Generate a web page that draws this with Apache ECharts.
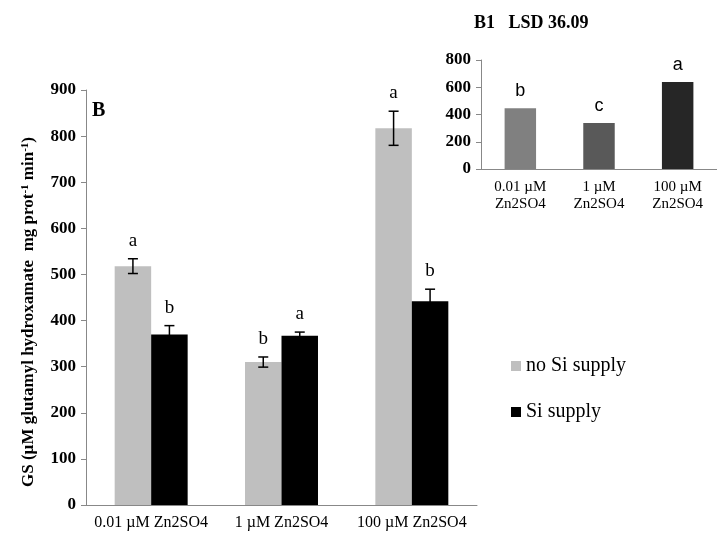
<!DOCTYPE html>
<html><head><meta charset="utf-8">
<script src="https://cdn.jsdelivr.net/npm/echarts@6/dist/echarts.min.js"></script>
<style>html,body{margin:0;padding:0;background:#fff}#c{width:717px;height:539px}</style>
</head><body><div id="c"></div>
<script>
var categories = ['0.01 µM Zn2SO4', '1 µM Zn2SO4', '100 µM Zn2SO4'];
var noSi = [518, 310, 817];
var noSiErr = [16, 11, 37];
var noSiLetters = ['a', 'b', 'a'];
var si = [370, 367, 442];
var siErr = [19, 8, 26];
var siLetters = ['b', 'a', 'b'];
var yTicks = [0, 900, 100];
var insetCategories = ['0.01 µM\nZn2SO4', '1 µM\nZn2SO4', '100 µM\nZn2SO4'];
var insetValues = [446, 337, 639];
var insetLetters = ['b', 'c', 'a'];
var insetColors = ['#808080', '#595959', '#262626'];
var insetTicks = [0, 800, 200];

var serif = '"Liberation Serif","Times New Roman",serif';
var chart = echarts.init(document.getElementById('c'));

function errSeries(vals, errs, letters, side) {
  return {
    type: 'custom', xAxisIndex: 0, yAxisIndex: 0, z: 10,
    data: vals.map(function (v, i) { return [i, v, errs[i], letters[i]]; }),
    renderItem: function (params, api) {
      var band = api.size([1, 0])[0];
      var bw = band * 0.28;
      var c = api.coord([api.value(0), api.value(1)]);
      var x = c[0] + side * bw / 2;
      var top = api.coord([api.value(0), api.value(1) + api.value(2)])[1];
      var bot = api.coord([api.value(0), api.value(1) - api.value(2)])[1];
      var st = { stroke: '#000', lineWidth: 1.5 };
      return { type: 'group', children: [
        { type: 'line', shape: { x1: x, y1: top, x2: x, y2: bot }, style: st },
        { type: 'line', shape: { x1: x - 5, y1: top, x2: x + 5, y2: top }, style: st },
        { type: 'line', shape: { x1: x - 5, y1: bot, x2: x + 5, y2: bot }, style: st },
        { type: 'text', x: x, y: top - 18, style: { text: letters[params.dataIndex], font: '19px ' + serif, fill: '#000', align: 'center', verticalAlign: 'middle' } }
      ] };
    }
  };
}

chart.setOption({
  animation: false,
  title: { text: 'B1   LSD 36.09', left: 469, top: 9, textStyle: { fontFamily: serif, fontWeight: 'bold', fontSize: 18, color: '#000' } },
  legend: {
    orient: 'vertical', left: 506, top: 351, itemWidth: 10, itemHeight: 10, itemGap: 26, icon: 'rect',
    data: ['no Si supply', 'Si supply'],
    textStyle: { fontFamily: serif, fontSize: 20, color: '#000' }
  },
  graphic: [
    { type: 'text', left: 92, top: 101, style: { text: 'B', font: 'bold 20px ' + serif, fill: '#000' } },
    { type: 'text', x: 29, y: 312, rotation: Math.PI / 2, style: {
      text: '{t|GS (µM glutamyl hydroxamate  mg prot}{s|-1}{t| min}{s|-1}{t|)}',
      align: 'center', verticalAlign: 'middle',
      rich: { t: { font: 'bold 17px ' + serif, fill: '#000' }, s: { font: 'bold 11px ' + serif, fill: '#000', verticalAlign: 'top', padding: [0, 0, 8, 0] } } } }
  ],
  grid: [
    { left: 86, top: 90, width: 391, bottom: 34 },
    { left: 481, top: 60, width: 236, bottom: 370 }
  ],
  xAxis: [
    { type: 'category', gridIndex: 0, data: categories,
      axisLine: { lineStyle: { color: '#888' } }, axisTick: { length: 5, lineStyle: { color: '#888' } },
      axisLabel: { interval: 0, fontFamily: serif, fontSize: 16, color: '#000', margin: 10 } },
    { type: 'category', gridIndex: 1, data: insetCategories,
      axisLine: { lineStyle: { color: '#888' } }, axisTick: { length: 5, lineStyle: { color: '#888' } },
      axisLabel: { interval: 0, fontFamily: serif, fontSize: 15, color: '#000', margin: 10, lineHeight: 17 } }
  ],
  yAxis: [
    { type: 'value', gridIndex: 0, min: yTicks[0], max: yTicks[1], interval: yTicks[2],
      splitLine: { show: false }, axisLine: { show: true, lineStyle: { color: '#888' } },
      axisTick: { show: true, length: 5, lineStyle: { color: '#888' } },
      axisLabel: { fontFamily: serif, fontSize: 17, fontWeight: 'bold', color: '#000', margin: 10 } },
    { type: 'value', gridIndex: 1, min: insetTicks[0], max: insetTicks[1], interval: insetTicks[2],
      splitLine: { show: false }, axisLine: { show: true, lineStyle: { color: '#888' } },
      axisTick: { show: true, length: 5, lineStyle: { color: '#888' } },
      axisLabel: { fontFamily: serif, fontSize: 17, fontWeight: 'bold', color: '#000', margin: 10 } }
  ],
  series: [
    { name: 'no Si supply', type: 'bar', xAxisIndex: 0, yAxisIndex: 0, data: noSi, barWidth: '28%', barGap: '0%', itemStyle: { color: '#bfbfbf' } },
    { name: 'Si supply', type: 'bar', xAxisIndex: 0, yAxisIndex: 0, data: si, barWidth: '28%', barGap: '0%', itemStyle: { color: '#000' } },
    errSeries(noSi, noSiErr, noSiLetters, -1),
    errSeries(si, siErr, siLetters, 1),
    { type: 'bar', xAxisIndex: 1, yAxisIndex: 1, barWidth: '40%',
      data: insetValues.map(function (v, i) { return { value: v, itemStyle: { color: insetColors[i] } }; }),
      label: { show: true, position: 'top', distance: 8, formatter: function (p) { return insetLetters[p.dataIndex]; },
        fontFamily: '"Liberation Sans",Arial,sans-serif', fontSize: 18, color: '#000' } }
  ]
});
</script></body></html>
